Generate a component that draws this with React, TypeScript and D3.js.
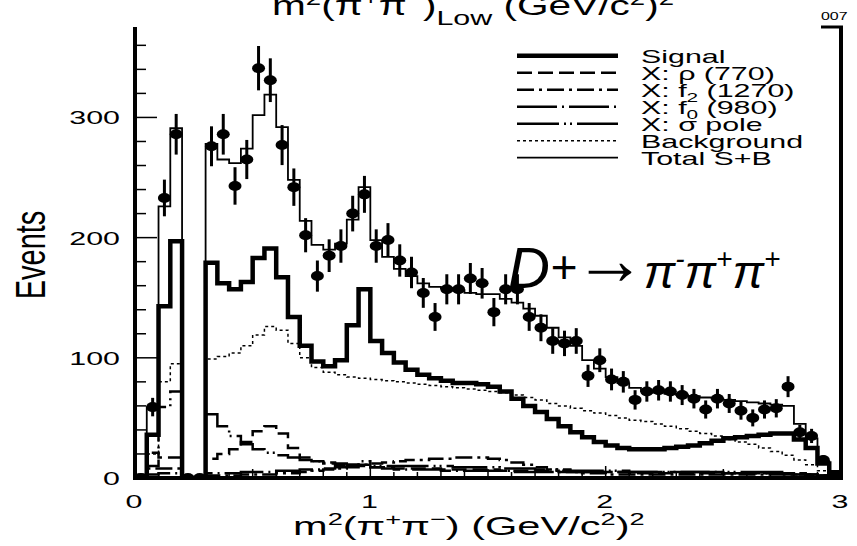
import React from 'react';
import * as d3 from 'd3';

const W = 857;
const H = 546;
const SX = 1.45;
const SXL = 1.6;
const FONT = "'Liberation Sans', Arial, Helvetica, sans-serif";

// 60 bins of width 0.05 GeV^2 from 0 to 3
const dataCounts = [0, 59, 233, 286, 0, 0, 276, 286, 243, 265, 341, 331, 277, 242, 202, 168, 185, 193, 220, 236,
  193, 198, 181, 171, 154, 134, 157, 157, 166, 162, 138, 157, 157, 134, 125, 114, 112, 114, 85, 98,
  82, 80, 65, 72, 73, 72, 69, 66, 57, 66, 62, 56, 50, 57, 58, 76, 38, 35, 15, 0];
const totalSB = [3, 59, 226, 291, 0, 0, 278, 265, 262, 274, 302, 319, 292, 248, 214, 194, 190, 195, 215, 242,
  198, 184, 174, 168, 162, 159, 158, 156, 154, 153, 153, 149, 146, 141, 135, 125, 117, 110, 98, 91,
  84, 79, 75, 72, 71, 70, 69, 68, 67, 66, 65, 64, 63, 62, 61, 60, 45, 33, 14, 6];
const signal = [0, 36, 143, 197, 0, 0, 179, 162, 157, 163, 183, 191, 167, 134, 110, 97, 93, 98, 127, 157,
  114, 104, 96, 90, 86, 83, 81, 79, 79, 78, 76, 72, 66, 60, 55, 49, 43, 38, 34, 30,
  27, 25, 24, 24, 24, 25, 26, 27, 29, 31, 33, 34, 35, 36, 37, 37, 32, 25, 12, 4];
const background = [0, 20, 80, 95, 0, 0, 99, 101, 104, 110, 119, 126, 123, 112, 100, 92, 88, 86, 84, 83,
  82, 81, 80, 79, 78, 77, 76, 75, 74, 73, 72, 71, 69, 67, 65, 62, 60, 58, 56, 54,
  52, 50, 48, 47, 45, 43, 41, 39, 37, 35, 32, 30, 28, 25, 22, 19, 15, 11, 6, 3];
const rho770 = [0, 21, 17, 17, 0, 0, 16, 20, 24, 30, 39, 43, 37, 25, 17, 14, 12, 11, 10, 10,
  9, 9, 8, 8, 8, 8, 7, 7, 7, 7, 7, 6, 6, 6, 6, 6, 5, 5, 5, 5,
  5, 5, 4, 4, 4, 4, 4, 4, 4, 4, 4, 4, 4, 4, 4, 3, 3, 3, 2, 1];
const f2_1270 = [0, 8, 8, 8, 0, 0, 2, 2, 2, 3, 3, 3, 4, 4, 5, 6, 7, 8, 9, 11,
  12, 13, 14, 15, 15, 16, 16, 17, 17, 17, 16, 15, 13, 11, 9, 7, 6, 5, 4, 4,
  3, 3, 3, 3, 3, 3, 3, 3, 3, 3, 3, 3, 3, 3, 3, 3, 3, 2, 2, 1];
const f0_980 = [0, 3, 4, 4, 0, 0, 4, 4, 4, 5, 5, 5, 6, 6, 7, 7, 8, 9, 11, 14,
  9, 8, 7, 7, 7, 7, 6, 6, 6, 6, 6, 6, 5, 5, 5, 5, 5, 5, 5, 5,
  5, 5, 5, 5, 5, 5, 5, 5, 5, 5, 4, 4, 4, 4, 4, 4, 3, 3, 2, 2];
const sigmaPole = [0, 10, 59, 72, 0, 0, 53, 43, 35, 28, 24, 21, 19, 17, 15, 14, 13, 12, 11, 11,
  10, 10, 10, 10, 10, 10, 10, 9, 9, 9, 9, 8, 8, 8, 7, 7, 7, 6, 6, 6,
  6, 6, 5, 5, 5, 5, 5, 5, 5, 5, 5, 5, 5, 5, 5, 4, 4, 3, 2, 1];

const xTickLabels = ['0', '1', '2', '3'];
const yTickLabels = ['0', '100', '200', '300'];
const legendLabels = ['Signal', 'X: ρ (770)', 'X: f2 (1270)', 'X: f0 (980)', 'X: σ pole', 'Background', 'Total S+B'];

const BIN = 0.05;

const x = d3.scaleLinear().domain([0, 3]).range([135, 841]);
const y = d3.scaleLinear().domain([0, 375]).range([478, 27.3]);

const stepLine = d3.line<[number, number]>().x(d => x(d[0])).y(d => y(d[1])).curve(d3.curveStepAfter);
const histPath = (vals: number[]) => {
  const pts: [number, number][] = [[0, 0]];
  vals.forEach((v, i) => pts.push([i * BIN, v]));
  pts.push([3, vals[vals.length - 1]]);
  pts.push([3, 0]);
  return stepLine(pts) || '';
};

type Sty = { w: number; dash?: string };
const styles: Sty[] = [
  { w: 4.5 },
  { w: 2.5, dash: '15,6' },
  { w: 2.5, dash: '17,5,3,5' },
  { w: 2.5, dash: '40,5,2,5' },
  { w: 2.5, dash: '42,5,2,4,2,5' },
  { w: 1.5, dash: '3,3' },
  { w: 1.8 },
];
const series = [signal, rho770, f2_1270, f0_980, sigmaPole, background, totalSB];

function LegendLabel({ i }: { i: number }) {
  const s = legendLabels[i];
  if (i === 2 || i === 3) {
    const m = s.match(/^(X: f)(\d)( .*)$/)!;
    return (
      <text fontSize={19}>
        {m[1]}<tspan fontSize={13} dy={5}>{m[2]}</tspan><tspan dy={-5}>{m[3]}</tspan>
      </text>
    );
  }
  return <text fontSize={19}>{s}</text>;
}

export default function App() {
  const yTicks = d3.range(0, 361, 20);
  const xTicks = d3.range(0, 30.01, 1).map(v => v / 10);
  return (
    <svg width={W} height={H} style={{ position: 'absolute', left: 0, top: 0, background: '#fff' }}
      fontFamily={FONT}>
      <rect x={0} y={0} width={W} height={H} fill="#fff" />
      <defs>
        <clipPath id="plot"><rect x={135} y={27} width={706} height={452} /></clipPath>
      </defs>

      {/* title, cut at top */}
      <g transform={`translate(272,15) scale(${SX},1)`}>
        <text fontSize={28}>
          m<tspan fontSize={19} dy={-10}>2</tspan><tspan dy={10}>(π</tspan><tspan fontSize={19} dy={-10}>+</tspan>
          <tspan dy={10}>π</tspan><tspan fontSize={19} dy={-10}>−</tspan><tspan dy={10}>)</tspan>
          <tspan fontSize={21} dy={10}>Low</tspan><tspan dy={-10}> (GeV/c</tspan><tspan fontSize={19} dy={-10}>2</tspan>
          <tspan dy={10}>)</tspan><tspan fontSize={19} dy={-10}>2</tspan>
        </text>
      </g>
      <g transform={`translate(821,20) scale(${SX},1)`}><text fontSize={11}>007</text></g>

      {/* histograms */}
      <g clipPath="url(#plot)" fill="none" stroke="#000">
        {series.map((vals, i) => (
          <path key={i} d={histPath(vals)} strokeWidth={styles[i].w}
            strokeDasharray={styles[i].dash} strokeLinejoin="miter" />
        ))}
        {/* data points */}
        {dataCounts.map((v, i) => {
          const cx = x(i * BIN + BIN / 2);
          const e = Math.sqrt(v);
          return (
            <g key={'p' + i}>
              {v > 0 && <line x1={cx} x2={cx} y1={y(v - e)} y2={y(v + e)} strokeWidth={3} />}
              <ellipse cx={cx} cy={y(v)} rx={6.5} ry={5} fill="#000" stroke="none" />
            </g>
          );
        })}
      </g>

      {/* axes frame */}
      <g stroke="#000" fill="none">
        <line x1={135} x2={135} y1={27} y2={480} strokeWidth={4} />
        <line x1={133} x2={843} y1={478} y2={478} strokeWidth={4} />
        <line x1={841} x2={841} y1={27} y2={480} strokeWidth={4} />
        <line x1={821} x2={843} y1={27} y2={27} strokeWidth={3} />
        {yTicks.map(t => (
          <line key={'yt' + t} x1={135} x2={135 + (t % 100 === 0 ? 22 : 11)} y1={y(t)} y2={y(t)} strokeWidth={1.5} />
        ))}
        {xTicks.map(t => {
          const r = Math.round(t * 10);
          const len = r % 10 === 0 ? 12 : r % 5 === 0 ? 9 : 6;
          return <line key={'xt' + r} x1={x(t)} x2={x(t)} y1={478} y2={478 - len} strokeWidth={1.5} />;
        })}
      </g>

      {/* tick labels */}
      {yTickLabels.map(l => (
        <g key={'yl' + l} transform={`translate(120,${y(+l) + 7}) scale(${SXL},1)`}>
          <text fontSize={19} textAnchor="end">{l}</text>
        </g>
      ))}
      {xTickLabels.map(l => (
        <g key={'xl' + l} transform={`translate(${x(+l) - 1},508) scale(${SXL},1)`}>
          <text fontSize={19} textAnchor="middle">{l}</text>
        </g>
      ))}

      {/* axis titles */}
      <g transform={`translate(293,535) scale(${SXL},1)`}>
        <text fontSize={26}>
          m<tspan fontSize={17} dy={-10}>2</tspan><tspan dy={10}>(π</tspan><tspan fontSize={17} dy={-10}>+</tspan>
          <tspan dy={10}>π</tspan><tspan fontSize={17} dy={-10}>−</tspan><tspan dy={10}>) (GeV/c</tspan>
          <tspan fontSize={17} dy={-10}>2</tspan><tspan dy={10}>)</tspan><tspan fontSize={17} dy={-10}>2</tspan>
        </text>
      </g>
      <g transform={`translate(45,255) rotate(-90) scale(1,${SX})`}>
        <text fontSize={29} textAnchor="middle">Events</text>
      </g>

      {/* legend */}
      {legendLabels.map((_, i) => {
        const ly = 55.7 + i * 17;
        return (
          <g key={'lg' + i}>
            <line x1={517} x2={618} y1={ly} y2={ly} stroke="#000" strokeWidth={styles[i].w}
              strokeDasharray={styles[i].dash} />
            <g transform={`translate(641,${ly + 7}) scale(${SXL},1)`}>
              <LegendLabel i={i} />
            </g>
          </g>
        );
      })}

      {/* decay label */}
      <text x={508} y={288} fontSize={58} fontStyle="italic">
        D<tspan fontSize={46} dy={-5}>+</tspan><tspan fontSize={72} dy={1} dx={-3} fontStyle="normal">→</tspan>
        <tspan fontSize={47} dy={4} dx={-2}>π</tspan><tspan fontSize={28} dy={-20}>-</tspan>
        <tspan fontSize={47} dy={20}>π</tspan><tspan fontSize={28} dy={-20}>+</tspan>
        <tspan fontSize={47} dy={20}>π</tspan><tspan fontSize={28} dy={-20}>+</tspan>
      </text>
    </svg>
  );
}
